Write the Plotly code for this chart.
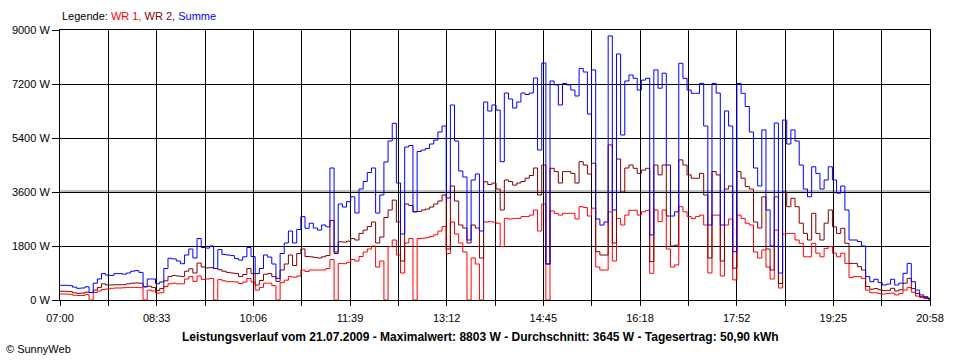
import plotly.graph_objects as go

# sampling grid (minutes after 07:00), 4-minute readings
minutes = list(range(0, 837, 4)) + [838]

wr1 = [200, 200, 190, 160, 150, 150, 180, 0, 250, 300,
       350, 370, 390, 400, 400, 410, 420, 420, 420, 410,
       0, 330, 300, 230, 240, 450, 540, 560, 540, 540,
       700, 780, 620, 800, 690, 700, 720, 0, 680, 640,
       610, 610, 600, 550, 600, 720, 600, 330, 420, 560,
       560, 480, 0, 580, 660, 780, 760, 800, 1000, 950,
       1000, 1000, 1000, 1000, 1050, 1350, 0, 1220, 1210, 1260,
       1350, 1300, 1450, 1600, 1700, 1800, 1100, 1300, 0, 1780,
       2000, 1500, 900, 1900, 2050, 0, 2050, 2060, 2080, 2120,
       2170, 2300, 2450, 1550, 2600, 2200, 1900, 1600, 0, 1400,
       1200, 0, 2600, 2610, 2600, 2560, 1780, 2720, 2700, 2720,
       2720, 2780, 2780, 2830, 3000, 2300, 3200, 0, 2970, 2890,
       2830, 2890, 2890, 2890, 2700, 3110, 3080, 2800, 3060, 1100,
       1000, 1000, 2940, 1300, 2720, 2500, 2830, 2990, 2990, 2830,
       2940, 2990, 890, 3000, 2610, 3000, 1700, 1100, 1170, 3110,
       2940, 2780, 2720, 2780, 2830, 2500, 900, 2830, 2830, 800,
       2500, 2700, 670, 2830, 2720, 2560, 2500, 1600, 1400, 1670,
       1100, 700, 2330, 400, 2200, 2220, 2220, 2000, 1890, 1440,
       1440, 1890, 1560, 1440, 1720, 1780, 1560, 1440, 1560, 1220,
       750, 780, 780, 720, 330, 240, 240, 220, 200, 220,
       230, 170, 220, 330, 420, 260, 130, 80, 50, 30,
       10]

wr2 = [290, 290, 280, 240, 220, 230, 260, 250, 330, 420,
       540, 500, 500, 510, 510, 510, 540, 560, 570, 560,
       440, 460, 420, 320, 380, 640, 780, 820, 800, 780,
       960, 1040, 900, 1230, 1100, 1070, 1080, 1050, 1010, 960,
       920, 900, 880, 780, 850, 1050, 880, 500, 650, 860,
       880, 780, 620, 1000, 1200, 1500, 1150, 1550, 1700, 1450,
       1440, 1420, 1400, 1440, 1480, 2650, 1550, 1940, 1930, 1960,
       2050, 2000, 2220, 2330, 2450, 2600, 1900, 2100, 2750, 3000,
       3330, 2600, 1300, 3200, 3150, 2940, 2950, 3000, 3030, 3100,
       3200, 3300, 3500, 1700, 3800, 3300, 2500, 2400, 1900, 2500,
       2400, 1400, 3940, 3850, 3900, 3700, 3000, 4000, 3950, 3830,
       3900, 3950, 4060, 4150, 4400, 3500, 4500, 1200, 4390, 4280,
       3900, 4280, 4280, 4220, 3900, 4610, 4500, 4200, 4560, 1610,
       1500, 1500, 5170, 1900, 4700, 3600, 4400, 4500, 4390, 4220,
       4330, 4390, 1280, 4500, 4170, 4500, 2800, 1800, 1830, 4670,
       4500, 4170, 4060, 4060, 4220, 3500, 1400, 4280, 4170, 1300,
       3700, 3800, 1060, 4280, 4060, 3780, 3700, 2600, 2400, 3440,
       1700, 1000, 3440, 550, 3600, 3110, 3390, 3110, 2560, 2220,
       2000, 2890, 2220, 2000, 2560, 3000, 2440, 2220, 2390, 1890,
       1220, 1220, 1110, 1000, 450, 360, 380, 340, 310, 320,
       390, 300, 340, 560, 720, 380, 220, 120, 80, 40,
       15]

summe = [490, 490, 480, 430, 390, 400, 440, 250, 560, 700,
         880, 830, 820, 880, 880, 860, 900, 960, 980, 920,
         440, 700, 700, 540, 600, 1050, 1390, 1370, 1300, 1210,
         1500, 1700, 1400, 2050, 1750, 1730, 1800, 1050, 1680, 1520,
         1500, 1480, 1380, 1330, 1440, 1750, 1450, 880, 1050, 1500,
         1430, 1200, 720, 1550, 1900, 2300, 1900, 2350, 2780, 2390,
         2560, 2400, 2330, 2500, 2440, 4400, 1600, 3200, 3100, 3280,
         3440, 2900, 3700, 3950, 4250, 4400, 2900, 3500, 4600, 5300,
         5890, 3900, 2200, 5100, 5150, 2940, 4950, 5000, 5050, 5200,
         5330, 5600, 5800, 3400, 6500, 5300, 4300, 4100, 2000, 4000,
         4200, 2300, 6600, 6300, 6500, 6330, 4610, 6900, 6700, 6400,
         6600, 6900, 6850, 6900, 7400, 5000, 7900, 1200, 7300, 7170,
         6500, 7220, 7170, 7000, 6800, 7720, 7600, 6200, 7670, 2700,
         2500, 2600, 8803, 3000, 8200, 5500, 7300, 7500, 7390, 7000,
         7330, 7390, 2170, 7670, 7060, 7560, 4500, 2800, 2940, 7890,
         7390, 7000, 6890, 6890, 7220, 5800, 2500, 7220, 6900, 2500,
         6300, 5800, 1610, 7220, 6890, 6450, 5600, 4400, 3800, 5670,
         3000, 1800, 5900, 900, 6000, 5200, 5670, 5300, 4500, 3700,
         3440, 4440, 4220, 3700, 4000, 4440, 4000, 3560, 3800, 3000,
         2000, 2000, 1950, 1800, 780, 610, 690, 580, 500, 530,
         690, 500, 560, 890, 1220, 610, 330, 170, 110, 60,
         20]

time_labels = ["07:00", "08:33", "10:06", "11:39", "13:12",
               "14:45", "16:18", "17:52", "19:25", "20:58"]
y_ticks = [0, 1800, 3600, 5400, 7200, 9000]

total_min = 838
tickvals = [total_min * i / 18 for i in range(19)]
ticktext = []
for i in range(19):
    ticktext.append(time_labels[i // 2] if i % 2 == 0 else "")

FONT = "Liberation Sans, Arial, sans-serif"

fig = go.Figure()
fig.add_trace(go.Scatter(x=minutes, y=wr1, mode="lines", name="WR 1",
                         line=dict(color="#ff0000", width=1, shape="hv")))
fig.add_trace(go.Scatter(x=minutes, y=wr2, mode="lines", name="WR 2",
                         line=dict(color="#800000", width=1, shape="hv")))
fig.add_trace(go.Scatter(x=minutes, y=summe, mode="lines", name="Summe",
                         line=dict(color="#0000ff", width=1, shape="hv")))

fig.update_layout(
    width=960, height=360,
    margin=dict(l=60, r=30, t=30, b=60),
    paper_bgcolor="white", plot_bgcolor="white",
    showlegend=False,
    font=dict(family=FONT, size=11, color="black"),
    xaxis=dict(range=[0, total_min], tickvals=tickvals, ticktext=ticktext,
               showgrid=True, gridcolor="black", gridwidth=1,
               showline=True, linecolor="black", linewidth=1, mirror=True,
               ticks="outside", ticklen=5, tickcolor="black",
               ticklabelstandoff=3,
               zeroline=False, tickfont=dict(family=FONT, size=11)),
    yaxis=dict(range=[0, 9000], tickvals=y_ticks,
               ticktext=[f"{v} W" for v in y_ticks],
               showgrid=True, gridcolor="black", gridwidth=1,
               showline=True, linecolor="black", linewidth=1, mirror=True,
               ticks="outside", ticklen=7, tickcolor="black",
               zeroline=False, tickfont=dict(family=FONT, size=11)),
    shapes=[dict(type="line", xref="paper", yref="paper", x0=0, x1=1,
                 y0=(300 - 191) / 270, y1=(300 - 191) / 270,
                 line=dict(color="#808080", width=1), layer="below")],
    annotations=[
        dict(xref="paper", yref="paper", x=0, y=(300 - 16) / 270,
             xanchor="left", yanchor="middle", showarrow=False,
             text="Legende: <span style='color:#ff0000'>WR 1, </span>"
                  "<span style='color:#800000'>WR 2, </span>"
                  "<span style='color:#0000ff'>Summe</span>",
             font=dict(family=FONT, size=11, color="black")),
        dict(xref="paper", yref="paper", x=(480 - 60) / 870, y=(300 - 337) / 270,
             xanchor="center", yanchor="middle", showarrow=False,
             text="<b>Leistungsverlauf vom 21.07.2009 - Maximalwert: 8803 W - "
                  "Durchschnitt: 3645 W - Tagesertrag: 50,90 kWh</b>",
             font=dict(family=FONT, size=12, color="black")),
        dict(xref="paper", yref="paper", x=(4 - 60) / 870, y=(300 - 349) / 270,
             xanchor="left", yanchor="middle", showarrow=False,
             text="© SunnyWeb",
             font=dict(family=FONT, size=11, color="black")),
    ],
)

fig.write_html("out.html", config={"displayModeBar": False},
               post_script="document.body.style.margin='0px';"
                           "document.body.style.overflow='hidden';")
